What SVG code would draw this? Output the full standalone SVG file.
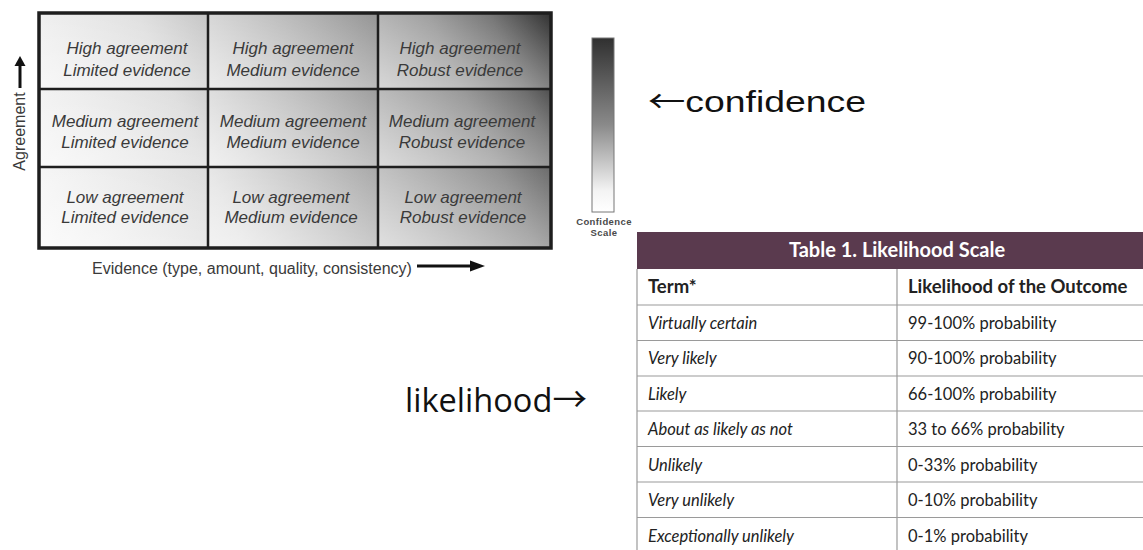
<svg xmlns="http://www.w3.org/2000/svg" width="1143" height="550" viewBox="0 0 1143 550">
<style>
.cell{font-family:"Liberation Sans",Arial,sans-serif;font-style:italic;font-size:17px;fill:#3a3a3a;text-anchor:middle}
.axis{font-family:"Liberation Sans",Arial,sans-serif;font-size:16px;fill:#3a3a3a}
.conf{font-family:"Liberation Sans",Arial,sans-serif;font-weight:bold;font-size:9.5px;fill:#4a4a4a;text-anchor:middle;letter-spacing:0.4px}
.big1{font-family:"Liberation Sans",Arial,sans-serif;font-size:30px;fill:#111}
.big2{font-family:"Open Sans","Noto Sans",sans-serif;font-size:32px;fill:#111}
.arr{font-family:"Noto Sans CJK SC","DejaVu Sans",sans-serif}
.th{font-family:Lato,"Open Sans",sans-serif;font-weight:bold;font-size:20px;fill:#fff;text-anchor:middle}
.tb{font-family:Lato,"Open Sans",sans-serif;font-weight:bold;font-size:18.5px;fill:#222}
.ti{font-family:Lato,"Open Sans",sans-serif;font-style:italic;font-size:16.5px;fill:#222}
.tr{font-family:Lato,"Open Sans",sans-serif;font-size:16.5px;fill:#222}
.rl{stroke:#9a9a9a;stroke-width:1.2}
.ov{fill:url(#cellOv)}
</style>
<defs>
<linearGradient id="gridG" gradientUnits="userSpaceOnUse" x1="39" y1="248" x2="551" y2="13">
<stop offset="0" stop-color="#f6f6f6"/>
<stop offset="0.33" stop-color="#dcdcdc"/>
<stop offset="0.45" stop-color="#c4c4c4"/>
<stop offset="0.66" stop-color="#9e9e9e"/>
<stop offset="0.8" stop-color="#868686"/>
<stop offset="0.9" stop-color="#666"/>
<stop offset="1" stop-color="#303030"/>
</linearGradient>
<linearGradient id="cellOv" x1="0" y1="1" x2="1" y2="0">
<stop offset="0" stop-color="#fff" stop-opacity="0.6"/>
<stop offset="1" stop-color="#fff" stop-opacity="0"/>
</linearGradient>
<linearGradient id="confG" x1="0" y1="0" x2="0" y2="1">
<stop offset="0" stop-color="#303030"/>
<stop offset="0.5" stop-color="#8a8a8a"/>
<stop offset="0.88" stop-color="#f4f4f4"/>
<stop offset="1" stop-color="#fff"/>
</linearGradient>
</defs>

<rect width="1143" height="550" fill="#fff"/>

<g id="grid">
<rect x="39" y="13" width="512" height="235" fill="url(#gridG)"/>
<rect class="ov" x="39" y="13" width="169" height="76"/>
<rect class="ov" x="208" y="13" width="170" height="76"/>
<rect class="ov" x="378" y="13" width="173" height="76"/>
<rect class="ov" x="39" y="89" width="169" height="78"/>
<rect class="ov" x="208" y="89" width="170" height="78"/>
<rect class="ov" x="378" y="89" width="173" height="78"/>
<rect class="ov" x="39" y="167" width="169" height="81"/>
<rect class="ov" x="208" y="167" width="170" height="81"/>
<rect class="ov" x="378" y="167" width="173" height="81"/>
<g stroke="#1e1e1e" stroke-width="2.5">
<line x1="208" y1="13" x2="208" y2="248"/>
<line x1="378" y1="13" x2="378" y2="248"/>
<line x1="39" y1="89" x2="551" y2="89"/>
<line x1="39" y1="167" x2="551" y2="167"/>
</g>
<rect x="39" y="13" width="512" height="235" fill="none" stroke="#1e1e1e" stroke-width="3.5"/>
</g>

<g id="cell-high-limited"><text class="cell" x="127" y="54">High agreement</text><text class="cell" x="127" y="76">Limited evidence</text></g>
<g id="cell-high-medium"><text class="cell" x="293" y="54">High agreement</text><text class="cell" x="293" y="76">Medium evidence</text></g>
<g id="cell-high-robust"><text class="cell" x="460" y="54">High agreement</text><text class="cell" x="460" y="76">Robust evidence</text></g>
<g id="cell-medium-limited"><text class="cell" x="125" y="127">Medium agreement</text><text class="cell" x="125" y="148">Limited evidence</text></g>
<g id="cell-medium-medium"><text class="cell" x="293" y="127">Medium agreement</text><text class="cell" x="293" y="148">Medium evidence</text></g>
<g id="cell-medium-robust"><text class="cell" x="462" y="127">Medium agreement</text><text class="cell" x="462" y="148">Robust evidence</text></g>
<g id="cell-low-limited"><text class="cell" x="125" y="203">Low agreement</text><text class="cell" x="125" y="223">Limited evidence</text></g>
<g id="cell-low-medium"><text class="cell" x="291" y="203">Low agreement</text><text class="cell" x="291" y="223">Medium evidence</text></g>
<g id="cell-low-robust"><text class="cell" x="463" y="203">Low agreement</text><text class="cell" x="463" y="223">Robust evidence</text></g>

<g id="agreement-label"><text class="axis" transform="translate(25,131.5) rotate(-90)" text-anchor="middle">Agreement</text></g>
<g id="evidence-label"><text class="axis" x="92" y="274">Evidence (type, amount, quality, consistency)</text></g>

<g id="connectors">
<line x1="20" y1="88" x2="20" y2="64" stroke="#111" stroke-width="3"/>
<polygon points="20,56 14.5,66 25.5,66" fill="#111"/>
<line x1="417" y1="266" x2="472" y2="266" stroke="#111" stroke-width="3"/>
<polygon points="485,266 470,260.5 470,271.5" fill="#111"/>
</g>

<g id="confidence-scale">
<rect x="592" y="38" width="22" height="174" fill="url(#confG)" stroke="#777" stroke-width="1"/>
<text class="conf" x="604" y="225">Confidence</text>
<text class="conf" x="604" y="236">Scale</text>
</g>

<g id="confidence-label"><text class="big1" x="648" y="112" textLength="218" lengthAdjust="spacingAndGlyphs"><tspan class="arr">←</tspan>confidence</text></g>
<g id="likelihood-label"><text class="big2" x="405" y="412" textLength="182" lengthAdjust="spacingAndGlyphs">likelihood<tspan class="arr" font-size="34">→</tspan></text></g>

<g id="likelihood-table">
<rect x="637" y="232" width="530" height="37" fill="#5a3a4e"/>
<text class="th" x="897" y="257">Table 1. Likelihood Scale</text>
<line class="rl" x1="637" y1="269" x2="637" y2="550"/>
<line class="rl" x1="897" y1="269" x2="897" y2="550"/>
<line class="rl" x1="637" y1="305" x2="1143" y2="305"/>
<line class="rl" x1="637" y1="340.5" x2="1143" y2="340.5"/>
<line class="rl" x1="637" y1="376" x2="1143" y2="376"/>
<line class="rl" x1="637" y1="411" x2="1143" y2="411"/>
<line class="rl" x1="637" y1="446.5" x2="1143" y2="446.5"/>
<line class="rl" x1="637" y1="482" x2="1143" y2="482"/>
<line class="rl" x1="637" y1="517.5" x2="1143" y2="517.5"/>
<text class="tb" x="648" y="293">Term*</text>
<text class="tb" x="908" y="293">Likelihood of the Outcome</text>
<text class="ti" x="648" y="328.5">Virtually certain</text><text class="tr" x="908" y="328.5">99-100% probability</text>
<text class="ti" x="648" y="364">Very likely</text><text class="tr" x="908" y="364">90-100% probability</text>
<text class="ti" x="648" y="399.5">Likely</text><text class="tr" x="908" y="399.5">66-100% probability</text>
<text class="ti" x="648" y="435">About as likely as not</text><text class="tr" x="908" y="435">33 to 66% probability</text>
<text class="ti" x="648" y="470.5">Unlikely</text><text class="tr" x="908" y="470.5">0-33% probability</text>
<text class="ti" x="648" y="506">Very unlikely</text><text class="tr" x="908" y="506">0-10% probability</text>
<text class="ti" x="648" y="541.5">Exceptionally unlikely</text><text class="tr" x="908" y="541.5">0-1% probability</text>
</g>
</svg>
